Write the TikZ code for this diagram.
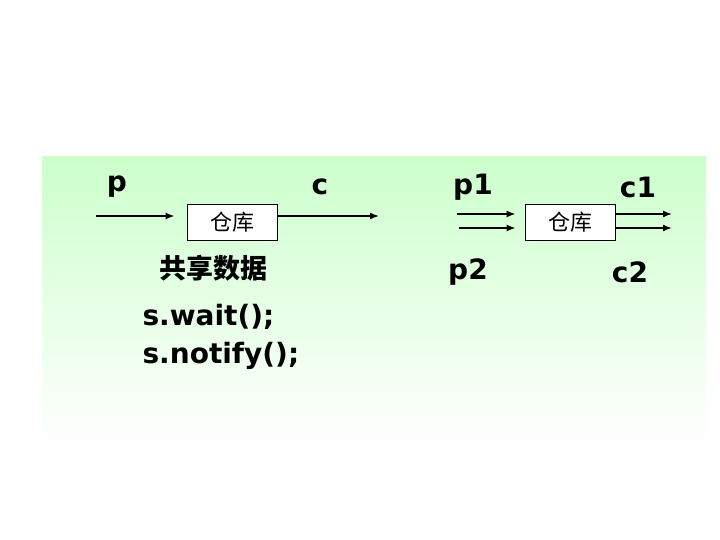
\documentclass[tikz,border=0pt]{standalone}
\usepackage{fontspec}
\setmainfont{DejaVu Sans}
\newfontfamily\cjk{Noto Sans CJK SC}
\usetikzlibrary{arrows.meta}
\tikzset{
  lbl/.style={font=\bfseries\fontsize{28}{32}\selectfont},
  store/.style={draw,fill=white,line width=0.9pt,minimum width=90pt,minimum height=36pt,
    inner sep=0pt,font=\cjk\fontsize{22}{26}\selectfont},
  flow/.style={-{Latex[length=9pt,width=7pt]},line width=1.5pt}
}
\begin{document}
\begin{tikzpicture}[x=1pt,y=-1pt]
    \useasboundingbox (0,0) rectangle (720,540);
    \shade[top color={rgb,255:red,204;green,255;blue,204},bottom color=white]
      (42,157) rectangle (706,445);

    % one producer, one consumer
    \node[store] (store1) at (232,222) {仓库};
    \node[lbl] (p) at (117,187) {p};
    \node[lbl] (c) at (320,187) {c};
    \coordinate (pin) at (96,216);
    \coordinate (cout) at (379,216);
    \draw[flow,shorten >=12pt] (pin) -- (store1.west |- pin);
    \draw[flow] (store1.east |- cout) -- (cout);
    \node[font=\cjk\bfseries\fontsize{27}{30}\selectfont] (share) at (213,268) {共享数据};
    \node[lbl,anchor=west] (wait) at (139,317) {s.wait();};
    \node[lbl,anchor=west] (notify) at (139,356) {s.notify();};

    % two producers, two consumers
    \node[store] (store2) at (570,222) {仓库};
    \node[lbl] (p1) at (473,187) {p1};
    \node[lbl] (c1) at (638,187) {c1};
    \node[lbl] (p2) at (468,272) {p2};
    \node[lbl] (c2) at (630,272) {c2};
    \foreach \y/\x in {214/457,228/459}{
      \coordinate (in\y) at (\x,\y);
      \coordinate (out\y) at (672,\y);
      \draw[flow,shorten >=9pt] (in\y) -- (store2.west |- in\y);
      \draw[flow] (store2.east |- out\y) -- (out\y);
    }
\end{tikzpicture}
\end{document}
